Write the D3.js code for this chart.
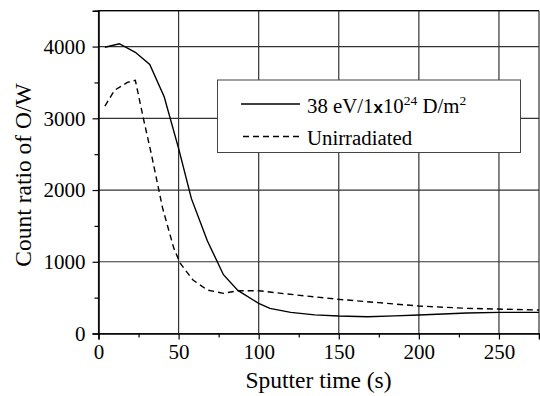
<!DOCTYPE html>
<html>
<head>
<meta charset="utf-8">
<script src="https://cdn.jsdelivr.net/npm/d3@7"></script>
<style>
  body { margin: 0; background: #fff; }
  svg { display: block; font-family: "Liberation Serif", "Times New Roman", serif; }
</style>
</head>
<body>
<svg id="chart" width="540" height="396"></svg>
<script>
// sputter time (s) and O/W count ratio
var irrTime = [4, 13, 23, 32, 41, 50, 58, 68, 78, 87, 100, 107, 120, 135, 150, 168, 185, 200, 230, 250, 275];
var irrRatio = [3990, 4040, 3920, 3750, 3300, 2580, 1880, 1290, 820, 600, 420, 350, 295, 260, 244, 234, 245, 258, 285, 295, 295];

var unTime = [4, 10, 18, 23, 28, 33, 40, 47, 51, 59, 68, 78, 87, 100, 118, 150, 175, 200, 230, 275];
var unRatio = [3170, 3390, 3500, 3530, 3000, 2500, 1750, 1190, 980, 745, 606, 560, 596, 596, 550, 476, 430, 383, 351, 327];

var xTicks = [0, 50, 100, 150, 200, 250];
var xMinor = [25, 75, 125, 175, 225, 275];
var yTicks = [0, 1000, 2000, 3000, 4000];
var yMinor = [500, 1500, 2500, 3500, 4500];

// plot box (window.top is reserved, so use other names)
var pLeft = 98.5, pRight = 539, pTop = 10.7, pBottom = 333.5;

var svg = d3.select("#chart");

var x = d3.scaleLinear().domain([0, 275]).range([pLeft, pRight]);
var y = d3.scaleLinear().domain([0, 4500]).range([pBottom, pTop]);

// grid
svg.append("g").selectAll("line").data(xTicks.concat([275])).join("line")
    .attr("x1", d => x(d)).attr("x2", d => x(d))
    .attr("y1", pTop).attr("y2", pBottom)
    .attr("stroke", "#333").attr("stroke-width", 1.2);
svg.append("g").selectAll("line").data(yTicks.concat([4500])).join("line")
    .attr("x1", pLeft).attr("x2", pRight)
    .attr("y1", d => y(d)).attr("y2", d => y(d))
    .attr("stroke", "#333").attr("stroke-width", 1.2);

// axes
svg.append("g").attr("transform", "translate(0," + pBottom + ")")
    .call(d3.axisBottom(x).tickValues(xTicks).tickSize(6).tickPadding(5).tickFormat(d3.format("d")));
svg.append("g").attr("transform", "translate(0," + pBottom + ")")
    .call(d3.axisBottom(x).tickValues(xMinor).tickSize(4).tickFormat(""))
    .select(".domain").remove();
svg.append("g").attr("transform", "translate(" + pLeft + ",0)")
    .call(d3.axisLeft(y).tickValues(yTicks).tickSize(6).tickPadding(7).tickFormat(d3.format("d")));
svg.append("g").attr("transform", "translate(" + pLeft + ",0)")
    .call(d3.axisLeft(y).tickValues(yMinor).tickSize(4).tickFormat(""))
    .select(".domain").remove();

svg.selectAll(".domain").attr("stroke", "#000").attr("stroke-width", 1.5);
svg.selectAll(".tick line").attr("stroke", "#000").attr("stroke-width", 1.2);
svg.selectAll(".tick text").attr("font-family", "Liberation Serif, Times New Roman, serif")
    .attr("font-size", 21).attr("fill", "#000");

// top frame
svg.append("line").attr("x1", pLeft).attr("x2", pRight).attr("y1", pTop).attr("y2", pTop)
    .attr("stroke", "#000").attr("stroke-width", 1.2);

// curves (straight segments between read points)
var line = d3.line().x(d => x(d[0])).y(d => y(d[1]));

svg.append("path").datum(d3.zip(irrTime, irrRatio))
    .attr("d", line).attr("fill", "none")
    .attr("stroke", "#000").attr("stroke-width", 1.4);

svg.append("path").datum(d3.zip(unTime, unRatio))
    .attr("d", line).attr("fill", "none")
    .attr("stroke", "#000").attr("stroke-width", 1.4)
    .attr("stroke-dasharray", "6,4");

// legend
var lg = svg.append("g");
lg.append("rect").attr("x", 217.5).attr("y", 80).attr("width", 303).attr("height", 72.5)
    .attr("fill", "#fff").attr("stroke", "#444").attr("stroke-width", 1);
lg.append("line").attr("x1", 241).attr("x2", 300).attr("y1", 104).attr("y2", 104)
    .attr("stroke", "#000").attr("stroke-width", 1.4);
lg.append("line").attr("x1", 243).attr("x2", 300).attr("y1", 136.5).attr("y2", 136.5)
    .attr("stroke", "#000").attr("stroke-width", 1.4).attr("stroke-dasharray", "6,4");

var t1 = lg.append("text").attr("x", 307).attr("y", 113).attr("font-size", 20.8);
t1.append("tspan").text("38 eV/1");
t1.append("tspan").attr("font-family", "Liberation Sans, Arial, sans-serif").attr("font-weight", "bold")
    .attr("font-size", 17).text("x");
t1.append("tspan").text("10");
t1.append("tspan").attr("font-size", 13.5).attr("dy", -8).text("24");
t1.append("tspan").attr("dy", 8).text(" D/m");
t1.append("tspan").attr("font-size", 13.5).attr("dy", -8).text("2");

lg.append("text").attr("x", 307).attr("y", 144.5).attr("font-size", 20.8).text("Unirradiated");

// axis titles
svg.append("text").attr("x", 318.5).attr("y", 388).attr("text-anchor", "middle")
    .attr("font-size", 23.5).text("Sputter time (s)");
svg.append("text").attr("transform", "translate(31,175) rotate(-90)")
    .attr("text-anchor", "middle").attr("font-size", 23.5).text("Count ratio of O/W");
</script>
</body>
</html>
